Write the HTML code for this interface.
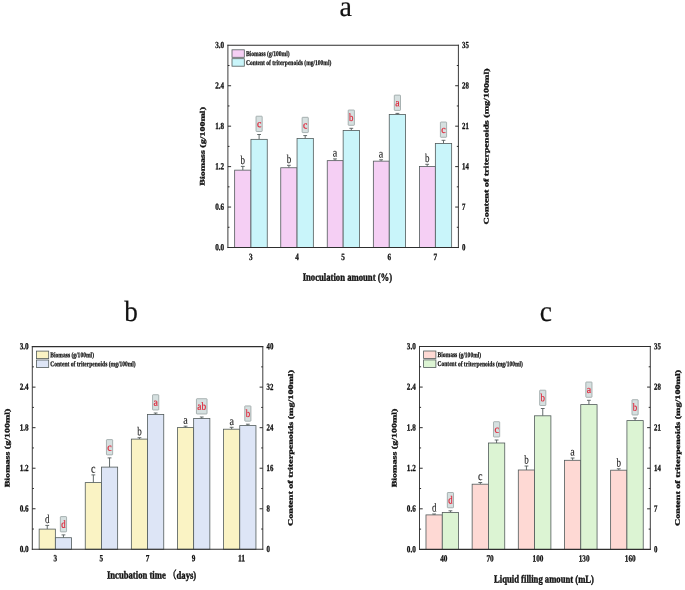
<!DOCTYPE html>
<html lang="en">
<head>
<meta charset="utf-8">
<title>Biomass and triterpenoid content charts</title>
<style>
html,body{margin:0;padding:0;background:#fff;}
body{width:685px;height:590px;overflow:hidden;}
svg{display:block;font-family:"Liberation Serif", serif;}
svg text{font-family:"Liberation Serif","Noto Serif CJK SC",serif;text-rendering:geometricPrecision;}
.fig{filter:blur(0.5px);}
</style>
</head>
<body>
<svg width="685" height="590" viewBox="0 0 685 590">
<rect width="685" height="590" fill="#fff"/>
<g class="fig">
<g class="chart" id="chart-a">
<path d="M242.80 170.15V166.40M240.90 166.40H244.70" stroke="#525b5b" stroke-width="0.9" fill="none"/>
<path d="M259.10 139.35V134.50M257.20 134.50H261.00" stroke="#525b5b" stroke-width="0.9" fill="none"/>
<rect x="234.65" y="170.15" width="16.30" height="77.35" fill="#f5cff4" stroke="#525b5b" stroke-width="0.8"/>
<rect x="250.95" y="139.35" width="16.30" height="108.15" fill="#c9f5fa" stroke="#525b5b" stroke-width="0.8"/>
<text x="242.80" y="164.00" font-size="12" font-weight="normal" fill="#222" text-anchor="middle" textLength="4.50" lengthAdjust="spacingAndGlyphs" transform="rotate(0.1 242.80 164.00)" stroke="#222" stroke-width="0.12" stroke-linejoin="round">b</text>
<rect x="256.00" y="116.20" width="6.20" height="15.3" rx="0.6" fill="#d6e0e0" stroke="#8c9898" stroke-width="0.7"/>
<text x="259.10" y="127.30" font-size="10.9" font-weight="normal" fill="#de2236" text-anchor="middle" textLength="4.40" lengthAdjust="spacingAndGlyphs" transform="rotate(0.1 259.10 127.30)" stroke="#de2236" stroke-width="0.22" stroke-linejoin="round">c</text>
<path d="M288.90 167.75V165.30M287.00 165.30H290.80" stroke="#525b5b" stroke-width="0.9" fill="none"/>
<path d="M305.20 138.55V135.60M303.30 135.60H307.10" stroke="#525b5b" stroke-width="0.9" fill="none"/>
<rect x="280.75" y="167.75" width="16.30" height="79.75" fill="#f5cff4" stroke="#525b5b" stroke-width="0.8"/>
<rect x="297.05" y="138.55" width="16.30" height="108.95" fill="#c9f5fa" stroke="#525b5b" stroke-width="0.8"/>
<text x="288.90" y="162.90" font-size="12" font-weight="normal" fill="#222" text-anchor="middle" textLength="4.50" lengthAdjust="spacingAndGlyphs" transform="rotate(0.1 288.90 162.90)" stroke="#222" stroke-width="0.12" stroke-linejoin="round">b</text>
<rect x="302.10" y="117.30" width="6.20" height="15.3" rx="0.6" fill="#d6e0e0" stroke="#8c9898" stroke-width="0.7"/>
<text x="305.20" y="128.40" font-size="10.9" font-weight="normal" fill="#de2236" text-anchor="middle" textLength="4.40" lengthAdjust="spacingAndGlyphs" transform="rotate(0.1 305.20 128.40)" stroke="#de2236" stroke-width="0.22" stroke-linejoin="round">c</text>
<path d="M335.00 160.65V158.90M333.10 158.90H336.90" stroke="#525b5b" stroke-width="0.9" fill="none"/>
<path d="M351.30 130.45V128.30M349.40 128.30H353.20" stroke="#525b5b" stroke-width="0.9" fill="none"/>
<rect x="327.25" y="160.65" width="15.90" height="86.85" fill="#f5cff4" stroke="#525b5b" stroke-width="0.8"/>
<rect x="343.15" y="130.45" width="16.30" height="117.05" fill="#c9f5fa" stroke="#525b5b" stroke-width="0.8"/>
<text x="335.00" y="156.50" font-size="12" font-weight="normal" fill="#222" text-anchor="middle" textLength="4.50" lengthAdjust="spacingAndGlyphs" transform="rotate(0.1 335.00 156.50)" stroke="#222" stroke-width="0.12" stroke-linejoin="round">a</text>
<rect x="348.20" y="110.00" width="6.20" height="15.3" rx="0.6" fill="#d6e0e0" stroke="#8c9898" stroke-width="0.7"/>
<text x="351.30" y="121.10" font-size="10.9" font-weight="normal" fill="#de2236" text-anchor="middle" textLength="4.40" lengthAdjust="spacingAndGlyphs" transform="rotate(0.1 351.30 121.10)" stroke="#de2236" stroke-width="0.22" stroke-linejoin="round">b</text>
<path d="M381.10 161.15V159.80M379.20 159.80H383.00" stroke="#525b5b" stroke-width="0.9" fill="none"/>
<path d="M397.40 114.45V113.40M395.50 113.40H399.30" stroke="#525b5b" stroke-width="0.9" fill="none"/>
<rect x="373.35" y="161.15" width="15.90" height="86.35" fill="#f5cff4" stroke="#525b5b" stroke-width="0.8"/>
<rect x="389.25" y="114.45" width="16.30" height="133.05" fill="#c9f5fa" stroke="#525b5b" stroke-width="0.8"/>
<text x="381.10" y="157.40" font-size="12" font-weight="normal" fill="#222" text-anchor="middle" textLength="4.50" lengthAdjust="spacingAndGlyphs" transform="rotate(0.1 381.10 157.40)" stroke="#222" stroke-width="0.12" stroke-linejoin="round">a</text>
<rect x="394.30" y="95.10" width="6.20" height="15.3" rx="0.6" fill="#d6e0e0" stroke="#8c9898" stroke-width="0.7"/>
<text x="397.40" y="106.20" font-size="10.9" font-weight="normal" fill="#de2236" text-anchor="middle" textLength="4.40" lengthAdjust="spacingAndGlyphs" transform="rotate(0.1 397.40 106.20)" stroke="#de2236" stroke-width="0.22" stroke-linejoin="round">a</text>
<path d="M427.20 166.55V164.30M425.30 164.30H429.10" stroke="#525b5b" stroke-width="0.9" fill="none"/>
<path d="M443.50 143.45V140.30M441.60 140.30H445.40" stroke="#525b5b" stroke-width="0.9" fill="none"/>
<rect x="419.45" y="166.55" width="15.90" height="80.95" fill="#f5cff4" stroke="#525b5b" stroke-width="0.8"/>
<rect x="435.35" y="143.45" width="16.30" height="104.05" fill="#c9f5fa" stroke="#525b5b" stroke-width="0.8"/>
<text x="427.20" y="161.90" font-size="12" font-weight="normal" fill="#222" text-anchor="middle" textLength="4.50" lengthAdjust="spacingAndGlyphs" transform="rotate(0.1 427.20 161.90)" stroke="#222" stroke-width="0.12" stroke-linejoin="round">b</text>
<rect x="440.40" y="122.00" width="6.20" height="15.3" rx="0.6" fill="#d6e0e0" stroke="#8c9898" stroke-width="0.7"/>
<text x="443.50" y="133.10" font-size="10.9" font-weight="normal" fill="#de2236" text-anchor="middle" textLength="4.40" lengthAdjust="spacingAndGlyphs" transform="rotate(0.1 443.50 133.10)" stroke="#de2236" stroke-width="0.22" stroke-linejoin="round">c</text>
<path d="M227.90 44.75V248.05M458.40 44.75V248.05" fill="none" stroke="#3c3c3c" stroke-width="1.0"/>
<path d="M227.45 45.30H458.85M227.45 247.50H458.85" fill="none" stroke="#2e2e2e" stroke-width="1.1"/>
<path d="M227.90 227.28h1.6" stroke="#222" stroke-width="0.95"/>
<path d="M458.40 227.28h-1.6" stroke="#222" stroke-width="0.95"/>
<path d="M227.90 207.06h3.2" stroke="#222" stroke-width="0.95"/>
<path d="M458.40 207.06h-3.2" stroke="#222" stroke-width="0.95"/>
<path d="M227.90 186.84h1.6" stroke="#222" stroke-width="0.95"/>
<path d="M458.40 186.84h-1.6" stroke="#222" stroke-width="0.95"/>
<path d="M227.90 166.62h3.2" stroke="#222" stroke-width="0.95"/>
<path d="M458.40 166.62h-3.2" stroke="#222" stroke-width="0.95"/>
<path d="M227.90 146.40h1.6" stroke="#222" stroke-width="0.95"/>
<path d="M458.40 146.40h-1.6" stroke="#222" stroke-width="0.95"/>
<path d="M227.90 126.18h3.2" stroke="#222" stroke-width="0.95"/>
<path d="M458.40 126.18h-3.2" stroke="#222" stroke-width="0.95"/>
<path d="M227.90 105.96h1.6" stroke="#222" stroke-width="0.95"/>
<path d="M458.40 105.96h-1.6" stroke="#222" stroke-width="0.95"/>
<path d="M227.90 85.74h3.2" stroke="#222" stroke-width="0.95"/>
<path d="M458.40 85.74h-3.2" stroke="#222" stroke-width="0.95"/>
<path d="M227.90 65.52h1.6" stroke="#222" stroke-width="0.95"/>
<path d="M458.40 65.52h-1.6" stroke="#222" stroke-width="0.95"/>
<text x="224.15" y="250.25" font-size="9.3" font-weight="bold" fill="#111" text-anchor="end" textLength="8.90" lengthAdjust="spacingAndGlyphs" transform="rotate(0.1 224.15 250.25)" stroke="#111" stroke-width="0.32" stroke-linejoin="round">0.0</text>
<text x="224.15" y="209.81" font-size="9.3" font-weight="bold" fill="#111" text-anchor="end" textLength="8.90" lengthAdjust="spacingAndGlyphs" transform="rotate(0.1 224.15 209.81)" stroke="#111" stroke-width="0.32" stroke-linejoin="round">0.6</text>
<text x="224.15" y="169.37" font-size="9.3" font-weight="bold" fill="#111" text-anchor="end" textLength="8.90" lengthAdjust="spacingAndGlyphs" transform="rotate(0.1 224.15 169.37)" stroke="#111" stroke-width="0.32" stroke-linejoin="round">1.2</text>
<text x="224.15" y="128.93" font-size="9.3" font-weight="bold" fill="#111" text-anchor="end" textLength="8.90" lengthAdjust="spacingAndGlyphs" transform="rotate(0.1 224.15 128.93)" stroke="#111" stroke-width="0.32" stroke-linejoin="round">1.8</text>
<text x="224.15" y="88.49" font-size="9.3" font-weight="bold" fill="#111" text-anchor="end" textLength="8.90" lengthAdjust="spacingAndGlyphs" transform="rotate(0.1 224.15 88.49)" stroke="#111" stroke-width="0.32" stroke-linejoin="round">2.4</text>
<text x="224.15" y="48.05" font-size="9.3" font-weight="bold" fill="#111" text-anchor="end" textLength="8.90" lengthAdjust="spacingAndGlyphs" transform="rotate(0.1 224.15 48.05)" stroke="#111" stroke-width="0.32" stroke-linejoin="round">3.0</text>
<text x="462.10" y="250.25" font-size="9.3" font-weight="bold" fill="#111" text-anchor="start" textLength="3.40" lengthAdjust="spacingAndGlyphs" transform="rotate(0.1 462.10 250.25)" stroke="#111" stroke-width="0.32" stroke-linejoin="round">0</text>
<text x="462.10" y="209.81" font-size="9.3" font-weight="bold" fill="#111" text-anchor="start" textLength="3.40" lengthAdjust="spacingAndGlyphs" transform="rotate(0.1 462.10 209.81)" stroke="#111" stroke-width="0.32" stroke-linejoin="round">7</text>
<text x="462.10" y="169.37" font-size="9.3" font-weight="bold" fill="#111" text-anchor="start" textLength="6.80" lengthAdjust="spacingAndGlyphs" transform="rotate(0.1 462.10 169.37)" stroke="#111" stroke-width="0.32" stroke-linejoin="round">14</text>
<text x="462.10" y="128.93" font-size="9.3" font-weight="bold" fill="#111" text-anchor="start" textLength="6.80" lengthAdjust="spacingAndGlyphs" transform="rotate(0.1 462.10 128.93)" stroke="#111" stroke-width="0.32" stroke-linejoin="round">21</text>
<text x="462.10" y="88.49" font-size="9.3" font-weight="bold" fill="#111" text-anchor="start" textLength="6.80" lengthAdjust="spacingAndGlyphs" transform="rotate(0.1 462.10 88.49)" stroke="#111" stroke-width="0.32" stroke-linejoin="round">28</text>
<text x="462.10" y="48.05" font-size="9.3" font-weight="bold" fill="#111" text-anchor="start" textLength="6.80" lengthAdjust="spacingAndGlyphs" transform="rotate(0.1 462.10 48.05)" stroke="#111" stroke-width="0.32" stroke-linejoin="round">35</text>
<text x="249.10" y="259.90" font-size="9.5" font-weight="bold" fill="#111" text-anchor="start" textLength="3.60" lengthAdjust="spacingAndGlyphs" transform="rotate(0.1 249.10 259.90)" stroke="#111" stroke-width="0.3" stroke-linejoin="round">3</text>
<text x="295.20" y="259.90" font-size="9.5" font-weight="bold" fill="#111" text-anchor="start" textLength="3.60" lengthAdjust="spacingAndGlyphs" transform="rotate(0.1 295.20 259.90)" stroke="#111" stroke-width="0.3" stroke-linejoin="round">4</text>
<text x="341.30" y="259.90" font-size="9.5" font-weight="bold" fill="#111" text-anchor="start" textLength="3.60" lengthAdjust="spacingAndGlyphs" transform="rotate(0.1 341.30 259.90)" stroke="#111" stroke-width="0.3" stroke-linejoin="round">5</text>
<text x="387.40" y="259.90" font-size="9.5" font-weight="bold" fill="#111" text-anchor="start" textLength="3.60" lengthAdjust="spacingAndGlyphs" transform="rotate(0.1 387.40 259.90)" stroke="#111" stroke-width="0.3" stroke-linejoin="round">6</text>
<text x="433.50" y="259.90" font-size="9.5" font-weight="bold" fill="#111" text-anchor="start" textLength="3.60" lengthAdjust="spacingAndGlyphs" transform="rotate(0.1 433.50 259.90)" stroke="#111" stroke-width="0.3" stroke-linejoin="round">7</text>
<text x="347.40" y="280.70" font-size="10.8" font-weight="bold" fill="#111" text-anchor="middle" textLength="89.40" lengthAdjust="spacingAndGlyphs" transform="rotate(0.1 347.40 280.70)" stroke="#111" stroke-width="0.4" stroke-linejoin="round">Inoculation amount (%)</text>
<text x="204.70" y="146.40" font-size="7.0" font-weight="bold" fill="#111" text-anchor="middle" textLength="78.80" lengthAdjust="spacingAndGlyphs" transform="rotate(-89.9 204.70 146.40)" stroke="#111" stroke-width="0.3" stroke-linejoin="round">Biomass (g/100ml)</text>
<text x="488.54" y="146.40" font-size="7.0" font-weight="bold" fill="#111" text-anchor="middle" textLength="156.00" lengthAdjust="spacingAndGlyphs" transform="rotate(-89.9 488.54 146.40)" stroke="#111" stroke-width="0.3" stroke-linejoin="round">Content of triterpenoids (mg/100ml)</text>
<rect x="232.00" y="49.80" width="12.3" height="7.5" fill="#f5cff4" stroke="#525b5b" stroke-width="0.8"/>
<rect x="232.00" y="58.70" width="12.3" height="7.5" fill="#c9f5fa" stroke="#525b5b" stroke-width="0.8"/>
<text x="245.90" y="55.90" font-size="7.3" font-weight="bold" fill="#111" text-anchor="start" textLength="43.70" lengthAdjust="spacingAndGlyphs" transform="rotate(0.1 245.90 55.90)" stroke="#111" stroke-width="0.25" stroke-linejoin="round">Biomass (g/100ml)</text>
<text x="245.90" y="64.90" font-size="7.3" font-weight="bold" fill="#111" text-anchor="start" textLength="85.40" lengthAdjust="spacingAndGlyphs" transform="rotate(0.1 245.90 64.90)" stroke="#111" stroke-width="0.25" stroke-linejoin="round">Content of triterpenoids (mg/100ml)</text>
<text x="345.70" y="15.70" font-size="29.3" font-weight="normal" fill="#111" text-anchor="middle" textLength="12.40" lengthAdjust="spacingAndGlyphs" transform="rotate(0.1 345.70 15.70)" stroke="#111" stroke-width="0.2" stroke-linejoin="round" class="panel">a</text>
</g>
<g class="chart" id="chart-b">
<path d="M47.25 529.10V525.40M45.35 525.40H49.15" stroke="#525b5b" stroke-width="0.9" fill="none"/>
<path d="M63.45 537.70V534.90M61.55 534.90H65.35" stroke="#525b5b" stroke-width="0.9" fill="none"/>
<rect x="39.15" y="529.10" width="16.20" height="20.20" fill="#faf3c4" stroke="#525b5b" stroke-width="0.8"/>
<rect x="55.35" y="537.70" width="16.20" height="11.60" fill="#dde5f6" stroke="#525b5b" stroke-width="0.8"/>
<text x="47.25" y="523.00" font-size="12" font-weight="normal" fill="#222" text-anchor="middle" textLength="4.50" lengthAdjust="spacingAndGlyphs" transform="rotate(0.1 47.25 523.00)" stroke="#222" stroke-width="0.12" stroke-linejoin="round">d</text>
<rect x="60.35" y="516.60" width="6.20" height="15.3" rx="0.6" fill="#d6e0e0" stroke="#8c9898" stroke-width="0.7"/>
<text x="63.45" y="527.70" font-size="10.9" font-weight="normal" fill="#de2236" text-anchor="middle" textLength="4.40" lengthAdjust="spacingAndGlyphs" transform="rotate(0.1 63.45 527.70)" stroke="#de2236" stroke-width="0.22" stroke-linejoin="round">d</text>
<path d="M93.35 482.60V474.90M91.45 474.90H95.25" stroke="#525b5b" stroke-width="0.9" fill="none"/>
<path d="M109.55 467.10V457.90M107.65 457.90H111.45" stroke="#525b5b" stroke-width="0.9" fill="none"/>
<rect x="85.25" y="482.60" width="16.20" height="66.70" fill="#faf3c4" stroke="#525b5b" stroke-width="0.8"/>
<rect x="101.45" y="467.10" width="16.20" height="82.20" fill="#dde5f6" stroke="#525b5b" stroke-width="0.8"/>
<text x="93.35" y="472.50" font-size="12" font-weight="normal" fill="#222" text-anchor="middle" textLength="4.50" lengthAdjust="spacingAndGlyphs" transform="rotate(0.1 93.35 472.50)" stroke="#222" stroke-width="0.12" stroke-linejoin="round">c</text>
<rect x="106.45" y="439.60" width="6.20" height="15.3" rx="0.6" fill="#d6e0e0" stroke="#8c9898" stroke-width="0.7"/>
<text x="109.55" y="450.70" font-size="10.9" font-weight="normal" fill="#de2236" text-anchor="middle" textLength="4.40" lengthAdjust="spacingAndGlyphs" transform="rotate(0.1 109.55 450.70)" stroke="#de2236" stroke-width="0.22" stroke-linejoin="round">c</text>
<path d="M139.45 439.10V437.70M137.55 437.70H141.35" stroke="#525b5b" stroke-width="0.9" fill="none"/>
<path d="M155.65 414.40V413.00M153.75 413.00H157.55" stroke="#525b5b" stroke-width="0.9" fill="none"/>
<rect x="131.35" y="439.10" width="16.20" height="110.20" fill="#faf3c4" stroke="#525b5b" stroke-width="0.8"/>
<rect x="147.55" y="414.40" width="16.20" height="134.90" fill="#dde5f6" stroke="#525b5b" stroke-width="0.8"/>
<text x="139.45" y="435.30" font-size="12" font-weight="normal" fill="#222" text-anchor="middle" textLength="4.50" lengthAdjust="spacingAndGlyphs" transform="rotate(0.1 139.45 435.30)" stroke="#222" stroke-width="0.12" stroke-linejoin="round">b</text>
<rect x="152.55" y="394.70" width="6.20" height="15.3" rx="0.6" fill="#d6e0e0" stroke="#8c9898" stroke-width="0.7"/>
<text x="155.65" y="405.80" font-size="10.9" font-weight="normal" fill="#de2236" text-anchor="middle" textLength="4.40" lengthAdjust="spacingAndGlyphs" transform="rotate(0.1 155.65 405.80)" stroke="#de2236" stroke-width="0.22" stroke-linejoin="round">a</text>
<path d="M185.55 427.60V426.20M183.65 426.20H187.45" stroke="#525b5b" stroke-width="0.9" fill="none"/>
<path d="M201.75 418.50V417.00M199.85 417.00H203.65" stroke="#525b5b" stroke-width="0.9" fill="none"/>
<rect x="177.45" y="427.60" width="16.20" height="121.70" fill="#faf3c4" stroke="#525b5b" stroke-width="0.8"/>
<rect x="193.65" y="418.50" width="16.20" height="130.80" fill="#dde5f6" stroke="#525b5b" stroke-width="0.8"/>
<text x="185.55" y="423.80" font-size="12" font-weight="normal" fill="#222" text-anchor="middle" textLength="4.50" lengthAdjust="spacingAndGlyphs" transform="rotate(0.1 185.55 423.80)" stroke="#222" stroke-width="0.12" stroke-linejoin="round">a</text>
<rect x="196.45" y="398.70" width="10.60" height="15.3" rx="0.6" fill="#d6e0e0" stroke="#8c9898" stroke-width="0.7"/>
<text x="201.75" y="409.80" font-size="10.9" font-weight="normal" fill="#de2236" text-anchor="middle" textLength="8.80" lengthAdjust="spacingAndGlyphs" transform="rotate(0.1 201.75 409.80)" stroke="#de2236" stroke-width="0.22" stroke-linejoin="round">ab</text>
<path d="M231.65 429.20V427.30M229.75 427.30H233.55" stroke="#525b5b" stroke-width="0.9" fill="none"/>
<path d="M247.85 425.60V424.20M245.95 424.20H249.75" stroke="#525b5b" stroke-width="0.9" fill="none"/>
<rect x="223.55" y="429.20" width="16.20" height="120.10" fill="#faf3c4" stroke="#525b5b" stroke-width="0.8"/>
<rect x="239.75" y="425.60" width="16.20" height="123.70" fill="#dde5f6" stroke="#525b5b" stroke-width="0.8"/>
<text x="231.65" y="424.90" font-size="12" font-weight="normal" fill="#222" text-anchor="middle" textLength="4.50" lengthAdjust="spacingAndGlyphs" transform="rotate(0.1 231.65 424.90)" stroke="#222" stroke-width="0.12" stroke-linejoin="round">a</text>
<rect x="244.75" y="405.90" width="6.20" height="15.3" rx="0.6" fill="#d6e0e0" stroke="#8c9898" stroke-width="0.7"/>
<text x="247.85" y="417.00" font-size="10.9" font-weight="normal" fill="#de2236" text-anchor="middle" textLength="4.40" lengthAdjust="spacingAndGlyphs" transform="rotate(0.1 247.85 417.00)" stroke="#de2236" stroke-width="0.22" stroke-linejoin="round">b</text>
<path d="M32.30 346.05V549.85M262.80 346.05V549.85" fill="none" stroke="#3c3c3c" stroke-width="1.0"/>
<path d="M31.85 346.60H263.25M31.85 549.30H263.25" fill="none" stroke="#2e2e2e" stroke-width="1.1"/>
<path d="M32.30 529.03h1.6" stroke="#222" stroke-width="0.95"/>
<path d="M262.80 529.03h-1.6" stroke="#222" stroke-width="0.95"/>
<path d="M32.30 508.76h3.2" stroke="#222" stroke-width="0.95"/>
<path d="M262.80 508.76h-3.2" stroke="#222" stroke-width="0.95"/>
<path d="M32.30 488.49h1.6" stroke="#222" stroke-width="0.95"/>
<path d="M262.80 488.49h-1.6" stroke="#222" stroke-width="0.95"/>
<path d="M32.30 468.22h3.2" stroke="#222" stroke-width="0.95"/>
<path d="M262.80 468.22h-3.2" stroke="#222" stroke-width="0.95"/>
<path d="M32.30 447.95h1.6" stroke="#222" stroke-width="0.95"/>
<path d="M262.80 447.95h-1.6" stroke="#222" stroke-width="0.95"/>
<path d="M32.30 427.68h3.2" stroke="#222" stroke-width="0.95"/>
<path d="M262.80 427.68h-3.2" stroke="#222" stroke-width="0.95"/>
<path d="M32.30 407.41h1.6" stroke="#222" stroke-width="0.95"/>
<path d="M262.80 407.41h-1.6" stroke="#222" stroke-width="0.95"/>
<path d="M32.30 387.14h3.2" stroke="#222" stroke-width="0.95"/>
<path d="M262.80 387.14h-3.2" stroke="#222" stroke-width="0.95"/>
<path d="M32.30 366.87h1.6" stroke="#222" stroke-width="0.95"/>
<path d="M262.80 366.87h-1.6" stroke="#222" stroke-width="0.95"/>
<text x="28.55" y="552.05" font-size="9.3" font-weight="bold" fill="#111" text-anchor="end" textLength="8.90" lengthAdjust="spacingAndGlyphs" transform="rotate(0.1 28.55 552.05)" stroke="#111" stroke-width="0.32" stroke-linejoin="round">0.0</text>
<text x="28.55" y="511.51" font-size="9.3" font-weight="bold" fill="#111" text-anchor="end" textLength="8.90" lengthAdjust="spacingAndGlyphs" transform="rotate(0.1 28.55 511.51)" stroke="#111" stroke-width="0.32" stroke-linejoin="round">0.6</text>
<text x="28.55" y="470.97" font-size="9.3" font-weight="bold" fill="#111" text-anchor="end" textLength="8.90" lengthAdjust="spacingAndGlyphs" transform="rotate(0.1 28.55 470.97)" stroke="#111" stroke-width="0.32" stroke-linejoin="round">1.2</text>
<text x="28.55" y="430.43" font-size="9.3" font-weight="bold" fill="#111" text-anchor="end" textLength="8.90" lengthAdjust="spacingAndGlyphs" transform="rotate(0.1 28.55 430.43)" stroke="#111" stroke-width="0.32" stroke-linejoin="round">1.8</text>
<text x="28.55" y="389.89" font-size="9.3" font-weight="bold" fill="#111" text-anchor="end" textLength="8.90" lengthAdjust="spacingAndGlyphs" transform="rotate(0.1 28.55 389.89)" stroke="#111" stroke-width="0.32" stroke-linejoin="round">2.4</text>
<text x="28.55" y="349.35" font-size="9.3" font-weight="bold" fill="#111" text-anchor="end" textLength="8.90" lengthAdjust="spacingAndGlyphs" transform="rotate(0.1 28.55 349.35)" stroke="#111" stroke-width="0.32" stroke-linejoin="round">3.0</text>
<text x="266.50" y="552.05" font-size="9.3" font-weight="bold" fill="#111" text-anchor="start" textLength="3.40" lengthAdjust="spacingAndGlyphs" transform="rotate(0.1 266.50 552.05)" stroke="#111" stroke-width="0.32" stroke-linejoin="round">0</text>
<text x="266.50" y="511.51" font-size="9.3" font-weight="bold" fill="#111" text-anchor="start" textLength="3.40" lengthAdjust="spacingAndGlyphs" transform="rotate(0.1 266.50 511.51)" stroke="#111" stroke-width="0.32" stroke-linejoin="round">8</text>
<text x="266.50" y="470.97" font-size="9.3" font-weight="bold" fill="#111" text-anchor="start" textLength="6.80" lengthAdjust="spacingAndGlyphs" transform="rotate(0.1 266.50 470.97)" stroke="#111" stroke-width="0.32" stroke-linejoin="round">16</text>
<text x="266.50" y="430.43" font-size="9.3" font-weight="bold" fill="#111" text-anchor="start" textLength="6.80" lengthAdjust="spacingAndGlyphs" transform="rotate(0.1 266.50 430.43)" stroke="#111" stroke-width="0.32" stroke-linejoin="round">24</text>
<text x="266.50" y="389.89" font-size="9.3" font-weight="bold" fill="#111" text-anchor="start" textLength="6.80" lengthAdjust="spacingAndGlyphs" transform="rotate(0.1 266.50 389.89)" stroke="#111" stroke-width="0.32" stroke-linejoin="round">32</text>
<text x="266.50" y="349.35" font-size="9.3" font-weight="bold" fill="#111" text-anchor="start" textLength="6.80" lengthAdjust="spacingAndGlyphs" transform="rotate(0.1 266.50 349.35)" stroke="#111" stroke-width="0.32" stroke-linejoin="round">40</text>
<text x="53.50" y="561.30" font-size="9.5" font-weight="bold" fill="#111" text-anchor="start" textLength="3.60" lengthAdjust="spacingAndGlyphs" transform="rotate(0.1 53.50 561.30)" stroke="#111" stroke-width="0.3" stroke-linejoin="round">3</text>
<text x="99.60" y="561.30" font-size="9.5" font-weight="bold" fill="#111" text-anchor="start" textLength="3.60" lengthAdjust="spacingAndGlyphs" transform="rotate(0.1 99.60 561.30)" stroke="#111" stroke-width="0.3" stroke-linejoin="round">5</text>
<text x="145.70" y="561.30" font-size="9.5" font-weight="bold" fill="#111" text-anchor="start" textLength="3.60" lengthAdjust="spacingAndGlyphs" transform="rotate(0.1 145.70 561.30)" stroke="#111" stroke-width="0.3" stroke-linejoin="round">7</text>
<text x="191.80" y="561.30" font-size="9.5" font-weight="bold" fill="#111" text-anchor="start" textLength="3.60" lengthAdjust="spacingAndGlyphs" transform="rotate(0.1 191.80 561.30)" stroke="#111" stroke-width="0.3" stroke-linejoin="round">9</text>
<text x="237.90" y="561.30" font-size="9.5" font-weight="bold" fill="#111" text-anchor="start" textLength="7.20" lengthAdjust="spacingAndGlyphs" transform="rotate(0.1 237.90 561.30)" stroke="#111" stroke-width="0.3" stroke-linejoin="round">11</text>
<text x="151.60" y="578.60" font-size="10.8" font-weight="bold" fill="#111" text-anchor="middle" textLength="89.30" lengthAdjust="spacingAndGlyphs" transform="rotate(0.1 151.60 578.60)" stroke="#111" stroke-width="0.4" stroke-linejoin="round">Incubation time （days)</text>
<text x="9.54" y="447.95" font-size="7.0" font-weight="bold" fill="#111" text-anchor="middle" textLength="78.80" lengthAdjust="spacingAndGlyphs" transform="rotate(-89.9 9.54 447.95)" stroke="#111" stroke-width="0.3" stroke-linejoin="round">Biomass (g/100ml)</text>
<text x="292.87" y="447.95" font-size="7.0" font-weight="bold" fill="#111" text-anchor="middle" textLength="156.00" lengthAdjust="spacingAndGlyphs" transform="rotate(-89.9 292.87 447.95)" stroke="#111" stroke-width="0.3" stroke-linejoin="round">Content of triterpenoids (mg/100ml)</text>
<rect x="36.40" y="351.10" width="12.3" height="7.5" fill="#faf3c4" stroke="#525b5b" stroke-width="0.8"/>
<rect x="36.40" y="360.00" width="12.3" height="7.5" fill="#dde5f6" stroke="#525b5b" stroke-width="0.8"/>
<text x="50.30" y="357.20" font-size="7.3" font-weight="bold" fill="#111" text-anchor="start" textLength="43.70" lengthAdjust="spacingAndGlyphs" transform="rotate(0.1 50.30 357.20)" stroke="#111" stroke-width="0.25" stroke-linejoin="round">Biomass (g/100ml)</text>
<text x="50.30" y="366.20" font-size="7.3" font-weight="bold" fill="#111" text-anchor="start" textLength="85.40" lengthAdjust="spacingAndGlyphs" transform="rotate(0.1 50.30 366.20)" stroke="#111" stroke-width="0.25" stroke-linejoin="round">Content of triterpenoids (mg/100ml)</text>
<text x="131.00" y="320.60" font-size="29.3" font-weight="normal" fill="#111" text-anchor="middle" textLength="13.60" lengthAdjust="spacingAndGlyphs" transform="rotate(0.1 131.00 320.60)" stroke="#111" stroke-width="0.2" stroke-linejoin="round" class="panel">b</text>
</g>
<g class="chart" id="chart-c">
<path d="M434.13 514.90V514.00M432.23 514.00H436.03" stroke="#525b5b" stroke-width="0.9" fill="none"/>
<path d="M450.43 512.40V510.80M448.53 510.80H452.33" stroke="#525b5b" stroke-width="0.9" fill="none"/>
<rect x="425.98" y="514.90" width="16.30" height="34.50" fill="#fed9d4" stroke="#525b5b" stroke-width="0.8"/>
<rect x="442.28" y="512.40" width="16.30" height="37.00" fill="#dcf4d3" stroke="#525b5b" stroke-width="0.8"/>
<text x="434.13" y="511.60" font-size="12" font-weight="normal" fill="#222" text-anchor="middle" textLength="4.50" lengthAdjust="spacingAndGlyphs" transform="rotate(0.1 434.13 511.60)" stroke="#222" stroke-width="0.12" stroke-linejoin="round">d</text>
<rect x="447.33" y="492.50" width="6.20" height="15.3" rx="0.6" fill="#d6e0e0" stroke="#8c9898" stroke-width="0.7"/>
<text x="450.43" y="503.60" font-size="10.9" font-weight="normal" fill="#de2236" text-anchor="middle" textLength="4.40" lengthAdjust="spacingAndGlyphs" transform="rotate(0.1 450.43 503.60)" stroke="#de2236" stroke-width="0.22" stroke-linejoin="round">d</text>
<path d="M480.29 484.20V482.50M478.39 482.50H482.19" stroke="#525b5b" stroke-width="0.9" fill="none"/>
<path d="M496.59 443.00V440.00M494.69 440.00H498.49" stroke="#525b5b" stroke-width="0.9" fill="none"/>
<rect x="472.14" y="484.20" width="16.30" height="65.20" fill="#fed9d4" stroke="#525b5b" stroke-width="0.8"/>
<rect x="488.44" y="443.00" width="16.30" height="106.40" fill="#dcf4d3" stroke="#525b5b" stroke-width="0.8"/>
<text x="480.29" y="480.10" font-size="12" font-weight="normal" fill="#222" text-anchor="middle" textLength="4.50" lengthAdjust="spacingAndGlyphs" transform="rotate(0.1 480.29 480.10)" stroke="#222" stroke-width="0.12" stroke-linejoin="round">c</text>
<rect x="493.49" y="421.70" width="6.20" height="15.3" rx="0.6" fill="#d6e0e0" stroke="#8c9898" stroke-width="0.7"/>
<text x="496.59" y="432.80" font-size="10.9" font-weight="normal" fill="#de2236" text-anchor="middle" textLength="4.40" lengthAdjust="spacingAndGlyphs" transform="rotate(0.1 496.59 432.80)" stroke="#de2236" stroke-width="0.22" stroke-linejoin="round">c</text>
<path d="M526.45 470.00V466.00M524.55 466.00H528.35" stroke="#525b5b" stroke-width="0.9" fill="none"/>
<path d="M542.75 415.80V408.50M540.85 408.50H544.65" stroke="#525b5b" stroke-width="0.9" fill="none"/>
<rect x="518.30" y="470.00" width="16.30" height="79.40" fill="#fed9d4" stroke="#525b5b" stroke-width="0.8"/>
<rect x="534.60" y="415.80" width="16.30" height="133.60" fill="#dcf4d3" stroke="#525b5b" stroke-width="0.8"/>
<text x="526.45" y="463.60" font-size="12" font-weight="normal" fill="#222" text-anchor="middle" textLength="4.50" lengthAdjust="spacingAndGlyphs" transform="rotate(0.1 526.45 463.60)" stroke="#222" stroke-width="0.12" stroke-linejoin="round">b</text>
<rect x="539.65" y="390.20" width="6.20" height="15.3" rx="0.6" fill="#d6e0e0" stroke="#8c9898" stroke-width="0.7"/>
<text x="542.75" y="401.30" font-size="10.9" font-weight="normal" fill="#de2236" text-anchor="middle" textLength="4.40" lengthAdjust="spacingAndGlyphs" transform="rotate(0.1 542.75 401.30)" stroke="#de2236" stroke-width="0.22" stroke-linejoin="round">b</text>
<path d="M572.61 460.30V458.00M570.71 458.00H574.51" stroke="#525b5b" stroke-width="0.9" fill="none"/>
<path d="M588.91 404.60V400.30M587.01 400.30H590.81" stroke="#525b5b" stroke-width="0.9" fill="none"/>
<rect x="564.46" y="460.30" width="16.30" height="89.10" fill="#fed9d4" stroke="#525b5b" stroke-width="0.8"/>
<rect x="580.76" y="404.60" width="16.30" height="144.80" fill="#dcf4d3" stroke="#525b5b" stroke-width="0.8"/>
<text x="572.61" y="455.60" font-size="12" font-weight="normal" fill="#222" text-anchor="middle" textLength="4.50" lengthAdjust="spacingAndGlyphs" transform="rotate(0.1 572.61 455.60)" stroke="#222" stroke-width="0.12" stroke-linejoin="round">a</text>
<rect x="585.81" y="382.00" width="6.20" height="15.3" rx="0.6" fill="#d6e0e0" stroke="#8c9898" stroke-width="0.7"/>
<text x="588.91" y="393.10" font-size="10.9" font-weight="normal" fill="#de2236" text-anchor="middle" textLength="4.40" lengthAdjust="spacingAndGlyphs" transform="rotate(0.1 588.91 393.10)" stroke="#de2236" stroke-width="0.22" stroke-linejoin="round">a</text>
<path d="M618.77 470.20V468.80M616.87 468.80H620.67" stroke="#525b5b" stroke-width="0.9" fill="none"/>
<path d="M635.07 420.60V418.00M633.17 418.00H636.97" stroke="#525b5b" stroke-width="0.9" fill="none"/>
<rect x="610.62" y="470.20" width="16.30" height="79.20" fill="#fed9d4" stroke="#525b5b" stroke-width="0.8"/>
<rect x="626.92" y="420.60" width="16.30" height="128.80" fill="#dcf4d3" stroke="#525b5b" stroke-width="0.8"/>
<text x="618.77" y="466.40" font-size="12" font-weight="normal" fill="#222" text-anchor="middle" textLength="4.50" lengthAdjust="spacingAndGlyphs" transform="rotate(0.1 618.77 466.40)" stroke="#222" stroke-width="0.12" stroke-linejoin="round">b</text>
<rect x="631.97" y="399.70" width="6.20" height="15.3" rx="0.6" fill="#d6e0e0" stroke="#8c9898" stroke-width="0.7"/>
<text x="635.07" y="410.80" font-size="10.9" font-weight="normal" fill="#de2236" text-anchor="middle" textLength="4.40" lengthAdjust="spacingAndGlyphs" transform="rotate(0.1 635.07 410.80)" stroke="#de2236" stroke-width="0.22" stroke-linejoin="round">b</text>
<path d="M419.50 345.95V549.95M650.30 345.95V549.95" fill="none" stroke="#3c3c3c" stroke-width="1.0"/>
<path d="M419.05 346.50H650.75M419.05 549.40H650.75" fill="none" stroke="#2e2e2e" stroke-width="1.1"/>
<path d="M419.50 529.11h1.6" stroke="#222" stroke-width="0.95"/>
<path d="M650.30 529.11h-1.6" stroke="#222" stroke-width="0.95"/>
<path d="M419.50 508.82h3.2" stroke="#222" stroke-width="0.95"/>
<path d="M650.30 508.82h-3.2" stroke="#222" stroke-width="0.95"/>
<path d="M419.50 488.53h1.6" stroke="#222" stroke-width="0.95"/>
<path d="M650.30 488.53h-1.6" stroke="#222" stroke-width="0.95"/>
<path d="M419.50 468.24h3.2" stroke="#222" stroke-width="0.95"/>
<path d="M650.30 468.24h-3.2" stroke="#222" stroke-width="0.95"/>
<path d="M419.50 447.95h1.6" stroke="#222" stroke-width="0.95"/>
<path d="M650.30 447.95h-1.6" stroke="#222" stroke-width="0.95"/>
<path d="M419.50 427.66h3.2" stroke="#222" stroke-width="0.95"/>
<path d="M650.30 427.66h-3.2" stroke="#222" stroke-width="0.95"/>
<path d="M419.50 407.37h1.6" stroke="#222" stroke-width="0.95"/>
<path d="M650.30 407.37h-1.6" stroke="#222" stroke-width="0.95"/>
<path d="M419.50 387.08h3.2" stroke="#222" stroke-width="0.95"/>
<path d="M650.30 387.08h-3.2" stroke="#222" stroke-width="0.95"/>
<path d="M419.50 366.79h1.6" stroke="#222" stroke-width="0.95"/>
<path d="M650.30 366.79h-1.6" stroke="#222" stroke-width="0.95"/>
<text x="415.75" y="552.15" font-size="9.3" font-weight="bold" fill="#111" text-anchor="end" textLength="8.90" lengthAdjust="spacingAndGlyphs" transform="rotate(0.1 415.75 552.15)" stroke="#111" stroke-width="0.32" stroke-linejoin="round">0.0</text>
<text x="415.75" y="511.57" font-size="9.3" font-weight="bold" fill="#111" text-anchor="end" textLength="8.90" lengthAdjust="spacingAndGlyphs" transform="rotate(0.1 415.75 511.57)" stroke="#111" stroke-width="0.32" stroke-linejoin="round">0.6</text>
<text x="415.75" y="470.99" font-size="9.3" font-weight="bold" fill="#111" text-anchor="end" textLength="8.90" lengthAdjust="spacingAndGlyphs" transform="rotate(0.1 415.75 470.99)" stroke="#111" stroke-width="0.32" stroke-linejoin="round">1.2</text>
<text x="415.75" y="430.41" font-size="9.3" font-weight="bold" fill="#111" text-anchor="end" textLength="8.90" lengthAdjust="spacingAndGlyphs" transform="rotate(0.1 415.75 430.41)" stroke="#111" stroke-width="0.32" stroke-linejoin="round">1.8</text>
<text x="415.75" y="389.83" font-size="9.3" font-weight="bold" fill="#111" text-anchor="end" textLength="8.90" lengthAdjust="spacingAndGlyphs" transform="rotate(0.1 415.75 389.83)" stroke="#111" stroke-width="0.32" stroke-linejoin="round">2.4</text>
<text x="415.75" y="349.25" font-size="9.3" font-weight="bold" fill="#111" text-anchor="end" textLength="8.90" lengthAdjust="spacingAndGlyphs" transform="rotate(0.1 415.75 349.25)" stroke="#111" stroke-width="0.32" stroke-linejoin="round">3.0</text>
<text x="654.00" y="552.15" font-size="9.3" font-weight="bold" fill="#111" text-anchor="start" textLength="3.40" lengthAdjust="spacingAndGlyphs" transform="rotate(0.1 654.00 552.15)" stroke="#111" stroke-width="0.32" stroke-linejoin="round">0</text>
<text x="654.00" y="511.57" font-size="9.3" font-weight="bold" fill="#111" text-anchor="start" textLength="3.40" lengthAdjust="spacingAndGlyphs" transform="rotate(0.1 654.00 511.57)" stroke="#111" stroke-width="0.32" stroke-linejoin="round">7</text>
<text x="654.00" y="470.99" font-size="9.3" font-weight="bold" fill="#111" text-anchor="start" textLength="6.80" lengthAdjust="spacingAndGlyphs" transform="rotate(0.1 654.00 470.99)" stroke="#111" stroke-width="0.32" stroke-linejoin="round">14</text>
<text x="654.00" y="430.41" font-size="9.3" font-weight="bold" fill="#111" text-anchor="start" textLength="6.80" lengthAdjust="spacingAndGlyphs" transform="rotate(0.1 654.00 430.41)" stroke="#111" stroke-width="0.32" stroke-linejoin="round">21</text>
<text x="654.00" y="389.83" font-size="9.3" font-weight="bold" fill="#111" text-anchor="start" textLength="6.80" lengthAdjust="spacingAndGlyphs" transform="rotate(0.1 654.00 389.83)" stroke="#111" stroke-width="0.32" stroke-linejoin="round">28</text>
<text x="654.00" y="349.25" font-size="9.3" font-weight="bold" fill="#111" text-anchor="start" textLength="6.80" lengthAdjust="spacingAndGlyphs" transform="rotate(0.1 654.00 349.25)" stroke="#111" stroke-width="0.32" stroke-linejoin="round">35</text>
<text x="440.23" y="561.40" font-size="9.5" font-weight="bold" fill="#111" text-anchor="start" textLength="7.20" lengthAdjust="spacingAndGlyphs" transform="rotate(0.1 440.23 561.40)" stroke="#111" stroke-width="0.3" stroke-linejoin="round">40</text>
<text x="486.39" y="561.40" font-size="9.5" font-weight="bold" fill="#111" text-anchor="start" textLength="7.20" lengthAdjust="spacingAndGlyphs" transform="rotate(0.1 486.39 561.40)" stroke="#111" stroke-width="0.3" stroke-linejoin="round">70</text>
<text x="532.55" y="561.40" font-size="9.5" font-weight="bold" fill="#111" text-anchor="start" textLength="10.80" lengthAdjust="spacingAndGlyphs" transform="rotate(0.1 532.55 561.40)" stroke="#111" stroke-width="0.3" stroke-linejoin="round">100</text>
<text x="578.71" y="561.40" font-size="9.5" font-weight="bold" fill="#111" text-anchor="start" textLength="10.80" lengthAdjust="spacingAndGlyphs" transform="rotate(0.1 578.71 561.40)" stroke="#111" stroke-width="0.3" stroke-linejoin="round">130</text>
<text x="624.87" y="561.40" font-size="9.5" font-weight="bold" fill="#111" text-anchor="start" textLength="10.80" lengthAdjust="spacingAndGlyphs" transform="rotate(0.1 624.87 561.40)" stroke="#111" stroke-width="0.3" stroke-linejoin="round">160</text>
<text x="544.00" y="582.60" font-size="10.8" font-weight="bold" fill="#111" text-anchor="middle" textLength="100.00" lengthAdjust="spacingAndGlyphs" transform="rotate(0.1 544.00 582.60)" stroke="#111" stroke-width="0.4" stroke-linejoin="round">Liquid filling amount (mL)</text>
<text x="396.50" y="447.95" font-size="7.0" font-weight="bold" fill="#111" text-anchor="middle" textLength="78.80" lengthAdjust="spacingAndGlyphs" transform="rotate(-89.9 396.50 447.95)" stroke="#111" stroke-width="0.3" stroke-linejoin="round">Biomass (g/100ml)</text>
<text x="680.00" y="447.95" font-size="7.0" font-weight="bold" fill="#111" text-anchor="middle" textLength="156.00" lengthAdjust="spacingAndGlyphs" transform="rotate(-89.9 680.00 447.95)" stroke="#111" stroke-width="0.3" stroke-linejoin="round">Content of triterpenoids (mg/100ml)</text>
<rect x="423.60" y="351.00" width="12.3" height="7.5" fill="#fed9d4" stroke="#525b5b" stroke-width="0.8"/>
<rect x="423.60" y="359.90" width="12.3" height="7.5" fill="#dcf4d3" stroke="#525b5b" stroke-width="0.8"/>
<text x="437.50" y="357.10" font-size="7.3" font-weight="bold" fill="#111" text-anchor="start" textLength="43.70" lengthAdjust="spacingAndGlyphs" transform="rotate(0.1 437.50 357.10)" stroke="#111" stroke-width="0.25" stroke-linejoin="round">Biomass (g/100ml)</text>
<text x="437.50" y="366.10" font-size="7.3" font-weight="bold" fill="#111" text-anchor="start" textLength="85.40" lengthAdjust="spacingAndGlyphs" transform="rotate(0.1 437.50 366.10)" stroke="#111" stroke-width="0.25" stroke-linejoin="round">Content of triterpenoids (mg/100ml)</text>
<text x="545.80" y="320.80" font-size="29.3" font-weight="normal" fill="#111" text-anchor="middle" textLength="12.20" lengthAdjust="spacingAndGlyphs" transform="rotate(0.1 545.80 320.80)" stroke="#111" stroke-width="0.2" stroke-linejoin="round" class="panel">c</text>
</g>
</g>
</svg>
</body>
</html>
